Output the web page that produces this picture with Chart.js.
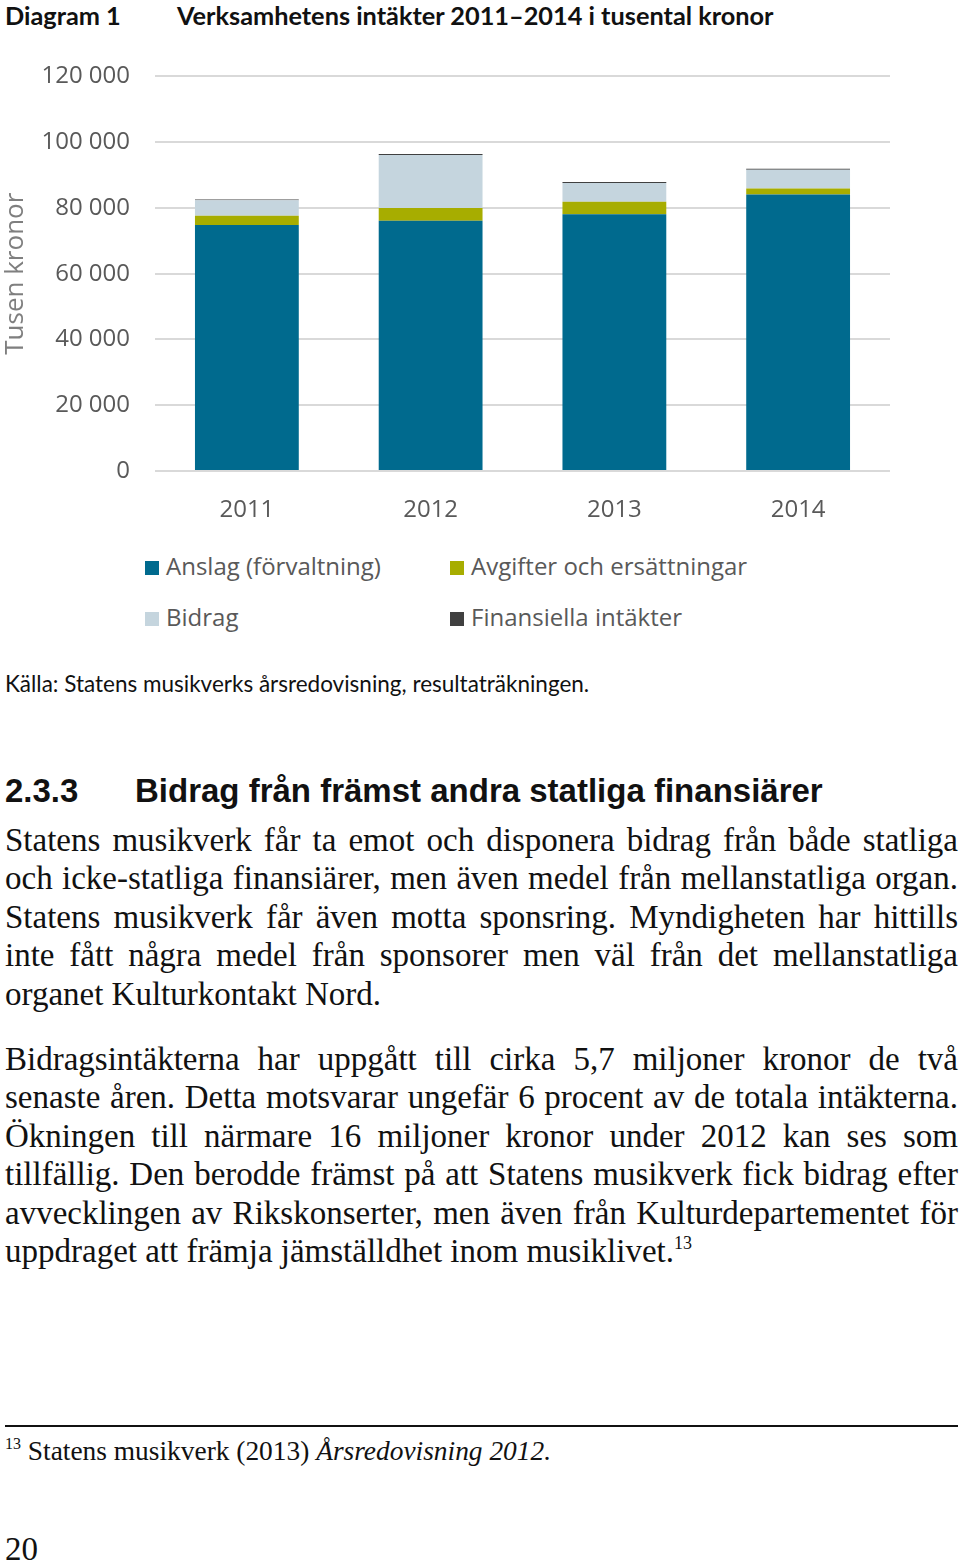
<!DOCTYPE html>
<html>
<head>
<meta charset="utf-8">
<script src="https://cdn.jsdelivr.net/npm/chart.js@4.4.0/dist/chart.umd.min.js"></script>
<style>
  body { margin: 0; background: #fff; width: 960px; height: 1565px; position: relative; overflow: hidden; }
  .abs { position: absolute; white-space: nowrap; }
  #title { top: 0; left: 5px; font: bold 25.3px Lato, sans-serif; color: #111; line-height: 30px; }
  #title span { position: absolute; left: 172px; }
  #wrap { position: absolute; left: 0; top: 37px; width: 960px; height: 493px; }
  .leg { position: absolute; font: 24px "Open Sans", sans-serif; color: #595959; line-height: 30px; }
  .leg i { display: inline-block; width: 14px; height: 14px; margin-right: 7px; vertical-align: 0px; }
  #kalla { top: 670px; left: 5px; font: 22.5px Lato, sans-serif; color: #111; }
  #rubrik { top: 772px; left: 5px; font: bold 33px "Liberation Sans", Arial, sans-serif; color: #111; }
  #rubrik span { position: absolute; left: 130px; }
  .body { position: absolute; left: 5px; width: 953px; font: 33px "Liberation Serif", serif; color: #111; line-height: 38.4px; }
  .body div { text-align: justify; text-align-last: justify; white-space: nowrap; }
  .body div.last { text-align-last: left; }
  sup { font-size: 18px; vertical-align: 13px; line-height: 0; }
  #rule { position: absolute; left: 5px; top: 1425px; width: 953px; height: 2px; background: #111; }
</style>
</head>
<body>
<div id="title" class="abs">Diagram 1<span>Verksamhetens intäkter 2011–2014 i tusental kronor</span></div>
<div id="wrap"><canvas id="diagram"></canvas></div>
<div id="legend"></div>
<div id="kalla" class="abs">Källa: Statens musikverks årsredovisning, resultaträkningen.</div>
<div id="rubrik" class="abs">2.3.3<span>Bidrag från främst andra statliga finansiärer</span></div>
<div class="body" style="top:821px">
  <div>Statens musikverk får ta emot och disponera bidrag från både statliga</div>
  <div>och icke-statliga finansiärer, men även medel från mellanstatliga organ.</div>
  <div>Statens musikverk får även motta sponsring. Myndigheten har hittills</div>
  <div>inte fått några medel från sponsorer men väl från det mellanstatliga</div>
  <div class="last">organet Kulturkontakt Nord.</div>
</div>
<div class="body" style="top:1040px">
  <div>Bidragsintäkterna har uppgått till cirka 5,7 miljoner kronor de två</div>
  <div>senaste åren. Detta motsvarar ungefär 6 procent av de totala intäkterna.</div>
  <div>Ökningen till närmare 16 miljoner kronor under 2012 kan ses som</div>
  <div>tillfällig. Den berodde främst på att Statens musikverk fick bidrag efter</div>
  <div>avvecklingen av Rikskonserter, men även från Kulturdepartementet för</div>
  <div class="last">uppdraget att främja jämställdhet inom musiklivet.<sup>13</sup></div>
</div>
<div id="rule"></div>
<div class="abs" style="top:1436px;left:5px;font:27.4px 'Liberation Serif',serif;color:#111;"><sup style="font-size:16px;vertical-align:11px">13</sup> Statens musikverk (2013) <i>Årsredovisning 2012.</i></div>
<div class="abs" style="top:1531px;left:5px;font:33px 'Liberation Serif',serif;color:#111;">20</div>
<script>
// tusental kronor
const years = ['2011', '2012', '2013', '2014'];
const anslag = [74800, 76100, 78100, 84100];
const avgifter = [2800, 3900, 3800, 1800];
const bidrag = [4700, 16100, 5700, 5700];
const finansiella = [300, 300, 300, 300];

const serier = [
  { label: 'Anslag (förvaltning)', data: anslag, color: '#006a8e' },
  { label: 'Avgifter och ersättningar', data: avgifter, color: '#a7ad00' },
  { label: 'Bidrag', data: bidrag, color: '#c5d5de' },
  { label: 'Finansiella intäkter', data: finansiella, color: '#404040' }
];

function tusen(v) {
  return String(v).replace(/\B(?=(\d{3})+(?!\d))/g, ' ');
}

new Chart(document.getElementById('diagram'), {
  type: 'bar',
  data: {
    labels: years,
    datasets: serier.map(s => ({
      label: s.label,
      data: s.data,
      backgroundColor: s.color,
      borderWidth: 0,
      categoryPercentage: 1,
      barPercentage: 0.565
    }))
  },
  options: {
    responsive: true,
    maintainAspectRatio: false,
    animation: false,
    layout: { padding: { top: 21, right: 70, left: 0, bottom: 0 } },
    plugins: { legend: { display: false }, tooltip: { enabled: false } },
    scales: {
      x: {
        stacked: true,
        grid: { display: false },
        border: { display: false },
        ticks: { color: '#595959', font: { family: 'Open Sans', size: 24 }, padding: 17 },
        afterFit: scale => { scale.height = 59; }
      },
      y: {
        stacked: true,
        min: 0,
        max: 120000,
        ticks: {
          stepSize: 20000,
          color: '#595959',
          font: { family: 'Open Sans', size: 24 },
          padding: 25,
          callback: v => tusen(v)
        },
        grid: { color: '#d9d9d9', lineWidth: 2, drawTicks: false },
        border: { display: false },
        title: {
          display: true,
          text: 'Tusen kronor',
          color: '#7f7f7f',
          font: { family: 'Open Sans', size: 26 },
          padding: 0
        },
        afterFit: scale => { scale.width = 155; }
      }
    }
  }
});

// förklaring i två kolumner
const legend = document.getElementById('legend');
const pos = [[145, 551], [450, 551], [145, 602], [450, 602]];
serier.forEach((s, i) => {
  const d = document.createElement('div');
  d.className = 'leg';
  d.style.left = pos[i][0] + 'px';
  d.style.top = pos[i][1] + 'px';
  d.innerHTML = '<i style="background:' + s.color + '"></i>' + s.label;
  legend.appendChild(d);
});
</script>
</body>
</html>
